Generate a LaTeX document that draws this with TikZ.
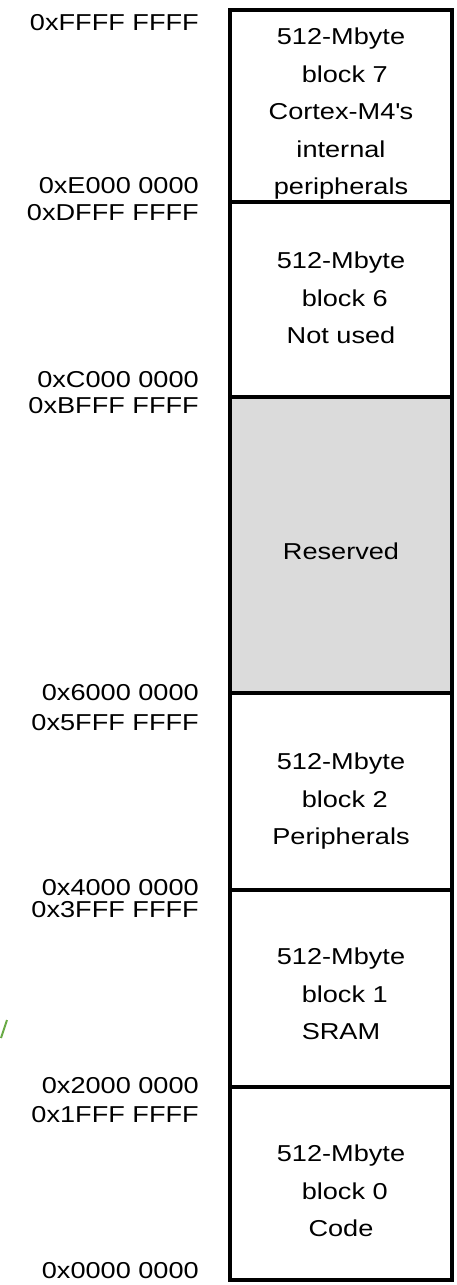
\documentclass[tikz,border=0pt]{standalone}
\usepackage{fontspec}
\setmainfont{Liberation Sans}[FakeStretch=1.18]
\definecolor{tickgreen}{RGB}{105,170,70}
\begin{document}
\begin{tikzpicture}[x=1pt,y=-1pt,
    addr/.style={anchor=base east,inner sep=0pt,font=\fontsize{23}{27}\selectfont},
    blk/.style={anchor=north,align=center,inner sep=0pt,font=\fontsize{23}{37.5}\selectfont}]
                \useasboundingbox (0,0) rectangle (456,1285);
                \path 
                (230,10) coordinate (TL)
                (452,1280) coordinate (BR)
                (230,397) coordinate (R1)
                (452,693) coordinate (R2)
                ;
                \fill[black!14] (R1) rectangle (R2);
                \draw[line width=4pt] (TL) rectangle (BR);
                \foreach \y in {202,397,693,890,1087}\draw[line width=4pt] (230,\y)--(452,\y);
                
                % block texts
                \node[blk] (b7) at (341,28) {512-Mbyte\\\ block 7\\Cortex-M4\textquotesingle s\\internal\\peripherals};
                \node[blk] (b6) at (341,252) {512-Mbyte\\\ block 6\\Not used};
                \node[blk] (res) at (341,543) {Reserved};
                \node[blk] (b2) at (341,753) {512-Mbyte\\\ block 2\\Peripherals};
                \node[blk] (b1) at (341,948) {512-Mbyte\\\ block 1\\SRAM};
                \node[blk] (b0) at (341,1145) {512-Mbyte\\\ block 0\\Code};
                
                % addresses
                \foreach \a/\y in {FFFF FFFF/30,E000 0000/193,DFFF FFFF/220,C000 0000/387,BFFF FFFF/413,6000 0000/700,5FFF FFFF/730,4000 0000/895,3FFF FFFF/917,2000 0000/1093,1FFF FFFF/1122,0000 0000/1278}
                    \node[addr] at (199,\y) {0x\a};
                
                \draw[tickgreen,line width=2pt] (1,1038)--(7,1020);
\end{tikzpicture}
\end{document}
